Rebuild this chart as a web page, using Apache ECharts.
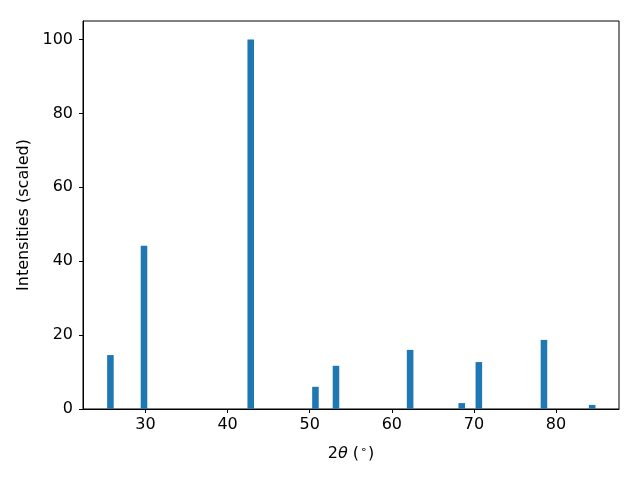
<!DOCTYPE html>
<html>
<head>
<meta charset="utf-8">
<script src="https://cdn.jsdelivr.net/npm/echarts@6/dist/echarts.min.js"></script>
<style>html,body{margin:0;padding:0;background:#fff}#c{width:640px;height:480px}</style>
</head>
<body>
<div id="c"></div>
<script>
const twoTheta = [25.73, 29.82, 42.82, 50.70, 53.20, 62.23, 68.52, 70.60, 78.53, 84.40];
const intensities = [14.6, 44.2, 100, 6.0, 11.7, 16.0, 1.6, 12.7, 18.7, 1.1];
const xTicks = [30, 40, 50, 60, 70, 80];
const yTicks = [0, 20, 40, 60, 80, 100];
const barWidthUnits = 0.8;

const font = 'DejaVu Sans';
const chart = echarts.init(document.getElementById('c'), null, {renderer: 'canvas'});
chart.setOption({
  animation: false,
  grid: {left: 83, right: 21, top: 21, bottom: 71, show: true, borderColor: '#000', borderWidth: 1, backgroundColor: 'transparent'},
  xAxis: {
    type: 'value', min: 22.39, max: 87.67,
    axisLine: {show: true, onZero: false, lineStyle: {color: '#000', width: 1}},
    axisTick: {show: true, length: 4, lineStyle: {color: '#000'}, customValues: xTicks},
    axisLabel: {color: '#000', fontSize: 16, fontFamily: font, margin: 8, customValues: xTicks},
    splitLine: {show: false},
    name: '{n|2}{i|θ}{n| (}{s|∘}{n|)}',
    nameLocation: 'middle', nameGap: 36,
    nameTextStyle: {color: '#000', fontFamily: font, fontSize: 16,
      rich: {n: {fontSize: 16, fontFamily: font, color: '#000'},
             i: {fontSize: 16, fontFamily: font, fontStyle: 'italic', color: '#000'},
             s: {fontSize: 11, fontFamily: font, color: '#000', verticalAlign: 'top', padding: [0, 1, 6, 1]}}}
  },
  yAxis: {
    type: 'value', min: 0, max: 105,
    axisLine: {show: true, lineStyle: {color: '#000', width: 1}},
    axisTick: {show: true, length: 4, lineStyle: {color: '#000'}, customValues: yTicks},
    axisLabel: {color: '#000', fontSize: 16, fontFamily: font, margin: 10, customValues: yTicks},
    splitLine: {show: false},
    name: 'Intensities (scaled)', nameLocation: 'middle', nameGap: 49,
    nameTextStyle: {color: '#000', fontFamily: font, fontSize: 16}
  },
  series: [{
    type: 'custom',
    data: twoTheta.map((x, i) => [x, intensities[i]]),
    encode: {x: 0, y: 1},
    renderItem: function (params, api) {
      const x = api.value(0), h = api.value(1);
      const p1 = api.coord([x - barWidthUnits / 2, h]);
      const p2 = api.coord([x + barWidthUnits / 2, 0]);
      return {type: 'rect', shape: {x: p1[0], y: p1[1], width: p2[0] - p1[0], height: p2[1] - p1[1]},
              style: {fill: '#1f77b4'}};
    }
  }]
});
</script>
</body>
</html>
